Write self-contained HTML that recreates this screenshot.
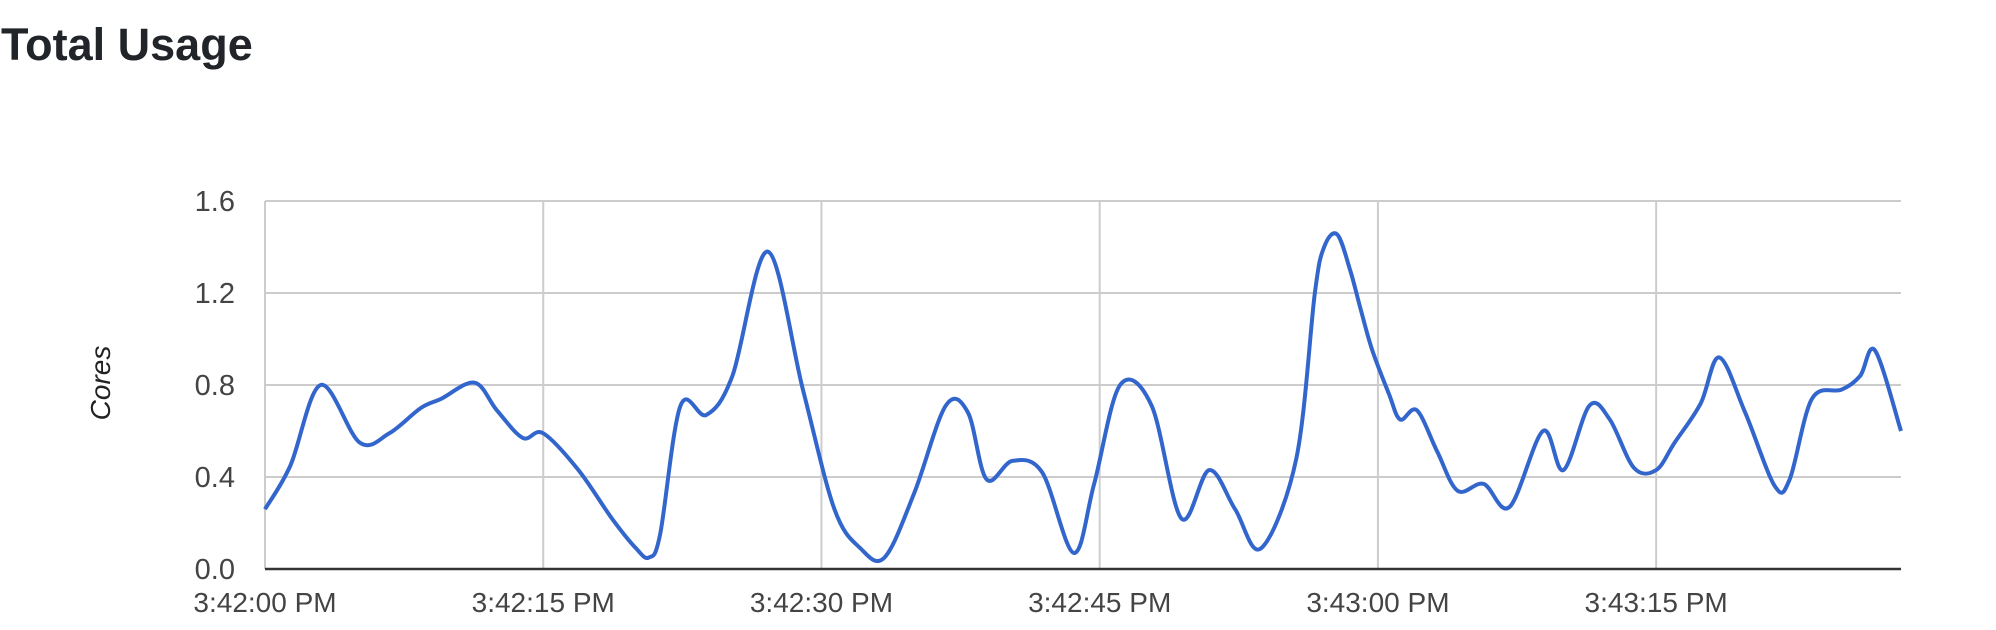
<!DOCTYPE html>
<html><head><meta charset="utf-8"><style>
body{margin:0;background:#fff;width:1996px;height:630px;overflow:hidden;font-family:"Liberation Sans",Arial,sans-serif}
</style></head><body>
<svg id="c" width="1996" height="630" style="position:absolute;left:0;top:0">
<text x="1" y="60" font-size="45" font-weight="bold" fill="#212529">Total Usage</text>
</svg>
<script>
const times=[0,1.37,3.0,5.1,6.7,8.4,9.5,11.3,12.5,13.9,15.0,16.9,18.7,20.0,20.7,21.3,22.4,23.8,25.2,27.1,29.0,30.7,32.1,33.4,35.0,36.7,37.9,38.9,40.3,41.9,43.6,44.7,46.1,47.8,49.4,50.9,52.3,53.7,55.6,56.6,57.1,57.8,58.5,59.1,59.7,60.6,61.2,62.1,63.2,64.3,65.7,67.1,68.9,70.0,71.4,72.5,73.8,75.0,76.0,77.4,78.4,79.8,81.4,82.2,83.4,85.0,86.0,86.8,88.2];
const cores=[0.26,0.45,0.80,0.55,0.59,0.70,0.74,0.81,0.69,0.57,0.59,0.43,0.22,0.09,0.05,0.15,0.71,0.67,0.84,1.38,0.78,0.26,0.09,0.05,0.33,0.71,0.68,0.39,0.47,0.42,0.07,0.37,0.80,0.71,0.22,0.43,0.26,0.09,0.48,1.20,1.40,1.455,1.30,1.12,0.95,0.76,0.65,0.69,0.51,0.34,0.37,0.27,0.60,0.43,0.71,0.65,0.44,0.43,0.55,0.72,0.92,0.68,0.36,0.39,0.74,0.78,0.84,0.95,0.60];
const yTicks=[0,0.4,0.8,1.2,1.6];
const yTickLabels=["0.0","0.4","0.8","1.2","1.6"];
const xTicks=[0,15,30,45,60,75];
const xTickLabels=["3:42:00 PM","3:42:15 PM","3:42:30 PM","3:42:45 PM","3:43:00 PM","3:43:15 PM"];
const L=265,R=1901,T=201,B=569,tMax=88.2,yMax=1.6;
const xs=t=>L+(t/tMax)*(R-L);
const ys=v=>B-(v/yMax)*(B-T);
const svg=document.getElementById('c');const NS="http://www.w3.org/2000/svg";
function mk(tag,a){const e=document.createElementNS(NS,tag);for(const k in a)e.setAttribute(k,a[k]);svg.appendChild(e);return e;}
yTicks.forEach((v,i)=>{
 if(v>0){const g=mk('line',{x1:L,x2:R,y1:ys(v),y2:ys(v),stroke:'#cccccc','stroke-width':2});
 
 }
 const t=mk('text',{x:235,y:ys(v)+10,'text-anchor':'end','font-size':29,fill:'#444'});t.textContent=yTickLabels[i];
 
 
});
xTicks.forEach((v,i)=>{
 const g=mk('line',{x1:xs(v),x2:xs(v),y1:T,y2:B,stroke:'#cccccc','stroke-width':2});
 
 
 const t=mk('text',{x:xs(v),y:612,'text-anchor':'middle','font-size':28,fill:'#444'});t.textContent=xTickLabels[i];
 
 
});
const base=mk('line',{x1:L,x2:R,y1:B,y2:B,stroke:'#333','stroke-width':2.5});


const yt=mk('text',{x:0,y:0,'text-anchor':'middle','font-size':28,'font-style':'italic',fill:'#222',transform:'translate(110,383) rotate(-90)'});yt.textContent='Cores';


const P=times.map((t,i)=>[xs(t),ys(cores[i])]);
let d=`M${P[0][0]},${P[0][1]}`;
for(let i=0;i<P.length-1;i++){const p0=P[i-1]||P[i],p1=P[i],p2=P[i+1],p3=P[i+2]||P[i+1];
 const c1=[p1[0]+(p2[0]-p0[0])/6,p1[1]+(p2[1]-p0[1])/6],c2=[p2[0]-(p3[0]-p1[0])/6,p2[1]-(p3[1]-p1[1])/6];
 d+=` C${c1[0]},${c1[1]} ${c2[0]},${c2[1]} ${p2[0]},${p2[1]}`;}
const line=mk('path',{d:d,fill:'none',stroke:'#3366cc','stroke-width':4,'stroke-linejoin':'round'});


</script>
</body></html>
